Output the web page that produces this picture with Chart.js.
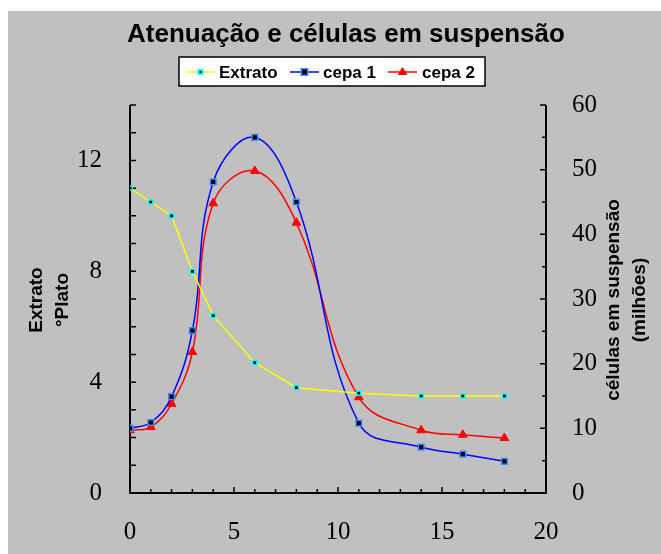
<!DOCTYPE html>
<html lang="pt">
<head>
    <meta charset="UTF-8">
    <title>Atenuação e células em suspensão</title>
    <script src="https://cdn.jsdelivr.net/npm/chart.js"></script>
    <style>
        body { margin: 0; background: #ffffff; }
        #wrap { width: 661px; height: 554px; }
    </style>
</head>
<body>
    <div id="wrap"><canvas id="chart" width="661" height="554"></canvas></div>
    <script>
        // dias de fermentação
        const dias = [0, 1, 2, 3, 4, 6, 8, 11, 14, 16, 18];
        // extrato (°Plato) - eixo esquerdo
        const extrato = [11, 10.5, 10, 8, 6.4, 4.7, 3.8, 3.6, 3.5, 3.5, 3.5];
        // células em suspensão (milhões) - eixo direito
        const cepa1 = [10, 10.9, 14.9, 25.1, 48.1, 55, 45, 10.8, 7.1, 6, 4.9];
        const cepa2 = [9.7, 10.2, 13.8, 21.8, 44.8, 49.8, 41.8, 14.8, 9.7, 9, 8.5];

        const xTicks = [0, 5, 10, 15, 20];
        const leftTicks = [0, 4, 8, 12];
        const rightTicks = [0, 10, 20, 30, 40, 50, 60];

        const toPoints = arr => arr.map((v, i) => ({ x: dias[i], y: v }));
        const serif = "'Liberation Serif', 'Times New Roman', serif";
        const sans = "'Liberation Sans', Arial, sans-serif";

        const bgPlugin = {
            id: 'bg',
            beforeDraw(chart) {
                const c = chart.ctx;
                c.save();
                c.fillStyle = '#ffffff';
                c.fillRect(0, 0, chart.width, chart.height);
                c.fillStyle = '#c0c0c0';
                c.fillRect(8, 11, chart.width - 8, chart.height - 11);
                c.restore();
            }
        };

        const axesPlugin = {
            id: 'axes',
            beforeDatasetsDraw(chart) {
                const c = chart.ctx;
                const a = chart.chartArea;
                const sx = chart.scales.x, sy = chart.scales.y, sy1 = chart.scales.y1;
                c.save();
                c.strokeStyle = '#000';
                c.lineWidth = 2;
                c.beginPath();
                c.moveTo(a.left, a.top);
                c.lineTo(a.left, a.bottom);
                c.lineTo(a.right, a.bottom);
                c.lineTo(a.right, a.top);
                c.stroke();
                c.lineWidth = 1.5;
                c.beginPath();
                for (let v = 0; v <= 20; v++) {
                    const px = sx.getPixelForValue(v);
                    const len = v % 5 === 0 ? 6 : 4;
                    c.moveTo(px, a.bottom);
                    c.lineTo(px, a.bottom - len);
                }
                for (let v = 0; v <= 14; v++) {
                    const py = sy.getPixelForValue(v);
                    c.moveTo(a.left, py);
                    c.lineTo(a.left + 6, py);
                }
                for (let v = 0; v <= 60; v += 5) {
                    const py = sy1.getPixelForValue(v);
                    const len = v % 10 === 0 ? 6 : 4;
                    c.moveTo(a.right, py);
                    c.lineTo(a.right - len, py);
                }
                c.stroke();
                c.restore();
            },
            afterDraw(chart) {
                const c = chart.ctx;
                c.save();
                c.fillStyle = '#000';
                c.textAlign = 'center';
                c.textBaseline = 'middle';
                // titulo
                c.font = 'bold 26px ' + sans;
                c.fillText('Atenuação e células em suspensão', 346, 35);

                // titulos dos eixos
                c.font = 'bold 19px ' + sans;
                c.save();
                c.translate(50, 300);
                c.rotate(-Math.PI / 2);
                c.fillText('Extrato', 0, -13);
                c.fillText('°Plato', 0, 13);
                c.restore();
                c.save();
                c.translate(627, 300);
                c.rotate(-Math.PI / 2);
                c.fillText('células em suspensão', 0, -13);
                c.fillText('(milhões)', 0, 13);
                c.restore();

                // legenda
                c.fillStyle = '#ffffff';
                c.fillRect(179, 57, 306, 29);
                c.strokeStyle = '#000';
                c.lineWidth = 1.5;
                c.strokeRect(179, 57, 306, 29);
                const ly = 72;
                const items = [
                    { label: 'Extrato', color: '#ffff00', x: 186, tx: 219 },
                    { label: 'cepa 1', color: '#0000ff', x: 290, tx: 323 },
                    { label: 'cepa 2', color: '#ff0000', x: 388, tx: 422 }
                ];
                items.forEach((it, i) => {
                    c.strokeStyle = it.color;
                    c.lineWidth = 1.5;
                    c.beginPath();
                    c.moveTo(it.x, ly);
                    c.lineTo(it.x + 29, ly);
                    c.stroke();
                    const mx = it.x + 14.5;
                    if (i === 0) {
                        c.fillStyle = '#00ffff';
                        c.fillRect(mx - 3, ly - 3, 6, 6);
                        c.fillStyle = '#000';
                        c.fillRect(mx - 1, ly - 1, 2, 2);
                    } else if (i === 1) {
                        c.fillStyle = '#3a8cff';
                        c.fillRect(mx - 4, ly - 4, 8, 8);
                        c.fillStyle = '#000';
                        c.fillRect(mx - 2.5, ly - 2.5, 5, 5);
                    } else {
                        c.fillStyle = '#ff0000';
                        c.beginPath();
                        c.moveTo(mx, ly - 5);
                        c.lineTo(mx + 5, ly + 3);
                        c.lineTo(mx - 5, ly + 3);
                        c.closePath();
                        c.fill();
                    }
                    c.fillStyle = '#000';
                    c.textAlign = 'left';
                    c.font = 'bold 17px ' + sans;
                    c.fillText(it.label, it.tx, ly + 1);
                });
                c.restore();
            }
        };

        new Chart(document.getElementById('chart'), {
            type: 'line',
            data: {
                datasets: [
                    {
                        label: 'Extrato',
                        data: toPoints(extrato),
                        yAxisID: 'y',
                        borderColor: '#ffff00',
                        borderWidth: 1.5,
                        tension: 0,
                        pointStyle: 'rect',
                        pointRadius: 3,
                        pointBackgroundColor: '#000000',
                        pointBorderColor: '#00ffff',
                        pointBorderWidth: 1.5
                    },
                    {
                        label: 'cepa 1',
                        data: toPoints(cepa1),
                        yAxisID: 'y1',
                        borderColor: '#0000ff',
                        borderWidth: 1.5,
                        tension: 0.4,
                        pointStyle: 'rect',
                        pointRadius: 4,
                        pointBackgroundColor: '#000000',
                        pointBorderColor: '#3a8cff',
                        pointBorderWidth: 1.5
                    },
                    {
                        label: 'cepa 2',
                        data: toPoints(cepa2),
                        yAxisID: 'y1',
                        borderColor: '#ff0000',
                        borderWidth: 1.5,
                        tension: 0.4,
                        pointStyle: 'triangle',
                        pointRadius: 5,
                        pointBackgroundColor: '#ff0000',
                        pointBorderColor: '#ff0000',
                        pointBorderWidth: 1
                    }
                ]
            },
            options: {
                responsive: false,
                animation: false,
                layout: { padding: { top: 105, left: 0, right: 0, bottom: 0 } },
                plugins: {
                    legend: { display: false },
                    title: { display: false },
                    tooltip: { enabled: false }
                },
                scales: {
                    x: {
                        type: 'linear',
                        min: 0,
                        max: 20,
                        grid: { display: false },
                        border: { display: false },
                        afterFit: s => { s.height = 61; },
                        afterBuildTicks: s => { s.ticks = xTicks.map(v => ({ value: v })); },
                        ticks: { font: { family: serif, size: 25 }, color: '#000', padding: 16, maxRotation: 0 }
                    },
                    y: {
                        position: 'left',
                        min: 0,
                        max: 14,
                        grid: { display: false },
                        border: { display: false },
                        afterFit: s => { s.width = 130; },
                        afterBuildTicks: s => { s.ticks = leftTicks.map(v => ({ value: v })); },
                        ticks: { font: { family: serif, size: 25 }, color: '#000', padding: 20 }
                    },
                    y1: {
                        position: 'right',
                        min: 0,
                        max: 60,
                        grid: { display: false },
                        border: { display: false },
                        afterFit: s => { s.width = 115; },
                        afterBuildTicks: s => { s.ticks = rightTicks.map(v => ({ value: v })); },
                        ticks: { font: { family: serif, size: 25 }, color: '#000', padding: 18 }
                    }
                }
            },
            plugins: [bgPlugin, axesPlugin]
        });
    </script>
</body>
</html>
